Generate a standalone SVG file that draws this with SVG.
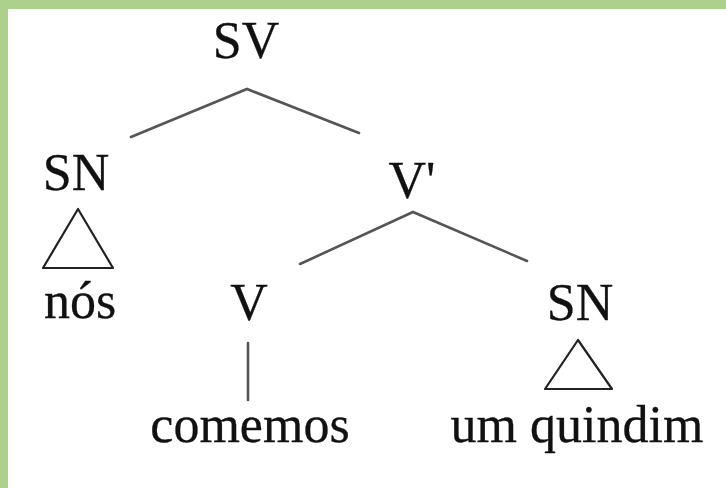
<svg xmlns="http://www.w3.org/2000/svg" width="726" height="488" viewBox="0 0 726 488">
<style>
.lbl{font-family:"Liberation Serif","Times New Roman",serif;font-size:52px;fill:#111;stroke:#111;stroke-width:0.3;text-anchor:middle}
.edge{stroke:#555;stroke-width:2.6;fill:none;stroke-linecap:round}
.tri{stroke:#222;stroke-width:2.2;fill:none;stroke-linejoin:round}
</style>
<rect x="0" y="0" width="726" height="488" fill="#ffffff"/>
<rect x="0" y="0" width="726" height="9" fill="#acd18c"/>
<rect x="0" y="0" width="8" height="488" fill="#acd18c"/>
<g id="connectors">
<polyline class="edge" points="131,137 247,89 359,133"/>
<polyline class="edge" points="300,264 413,212 527,261"/>
<line class="edge" x1="248" y1="343" x2="248" y2="400"/>
</g>
<g id="node-SV"><text class="lbl" x="246" y="58">SV</text></g>
<g id="node-SN1"><text class="lbl" x="76" y="190">SN</text><polygon class="tri" points="78,209 43,268 113,268"/></g>
<g id="node-nos"><text class="lbl" x="80" y="318">nós</text></g>
<g id="node-Vbar"><text class="lbl" x="412" y="198">V'</text></g>
<g id="node-V"><text class="lbl" x="249" y="320">V</text></g>
<g id="node-SN2"><text class="lbl" x="580" y="320">SN</text><polygon class="tri" points="578,340 545,389 612,389"/></g>
<g id="node-comemos"><text class="lbl" x="250" y="442">comemos</text></g>
<g id="node-umquindim"><text class="lbl" x="577" y="442">um quindim</text></g>
</svg>
